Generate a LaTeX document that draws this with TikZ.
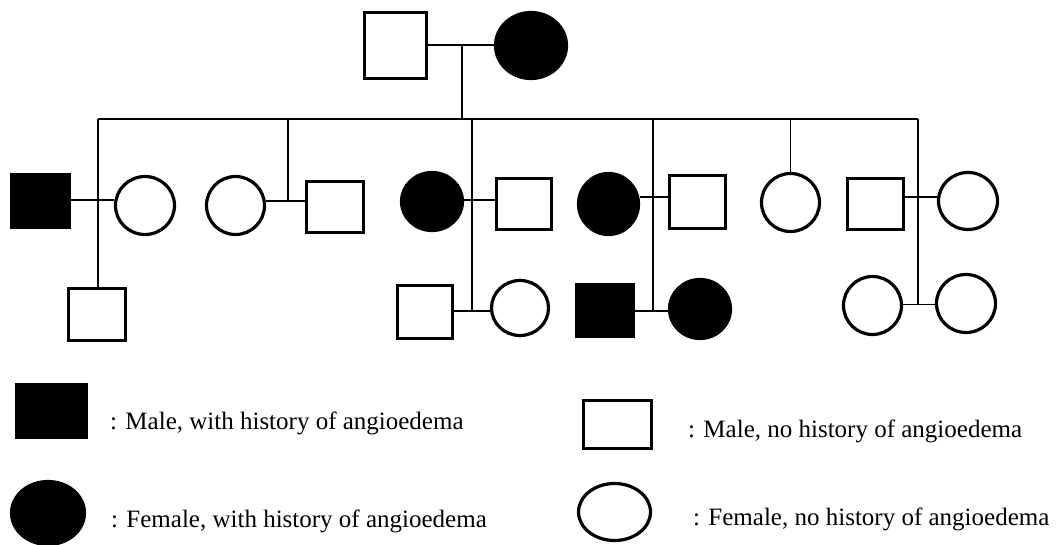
\documentclass[tikz,border=0pt]{standalone}
\usepackage{fontspec}
\setmainfont{Liberation Serif}
\usetikzlibrary{shapes.geometric}
\begin{document}
\begin{tikzpicture}[x=1pt,y=-1pt,
  male/.style={draw,line width=3.2pt,rectangle,inner sep=0pt},
  female/.style={draw,line width=3.2pt,ellipse,inner sep=0pt},
  aff/.style={fill=black},
  link/.style={line width=1.8pt},
  legtext/.style={anchor=base west,inner sep=0pt,font=\fontsize{25}{30}\selectfont}]
\useasboundingbox (0,0) rectangle (1058,544);
% generation I
\node[male,minimum width=62pt,minimum height=66pt] (I1) at (395.5,45.5) {};
\node[female,aff,minimum width=71pt,minimum height=66pt] (I2) at (531,45.5) {};
% generation II
\node[male,aff,minimum width=58pt,minimum height=53pt] (A) at (40.5,201) {};
\node[female,minimum width=59pt,minimum height=58pt] (B) at (145,205.5) {};
\node[female,minimum width=58pt,minimum height=58pt] (C) at (235.5,205.5) {};
\node[male,minimum width=57pt,minimum height=51pt] (D) at (335,207) {};
\node[female,aff,minimum width=61pt,minimum height=58pt] (E) at (432,201.5) {};
\node[male,minimum width=55pt,minimum height=51pt] (F) at (524,204) {};
\node[female,aff,minimum width=60pt,minimum height=61pt] (G) at (608.5,204) {};
\node[male,minimum width=56pt,minimum height=53pt] (H) at (697.5,202) {};
\node[female,minimum width=58pt,minimum height=58pt] (I) at (790.5,202.5) {};
\node[male,minimum width=56pt,minimum height=51pt] (J) at (875.5,204) {};
\node[female,minimum width=59pt,minimum height=57pt] (K) at (968,201) {};
% generation III
\node[male,minimum width=57pt,minimum height=52pt] (L) at (97,314.5) {};
\node[male,minimum width=55pt,minimum height=53pt] (M) at (425,312) {};
\node[female,minimum width=57pt,minimum height=55pt] (N) at (520,308) {};
\node[male,aff,minimum width=57pt,minimum height=52pt] (O) at (605,310.5) {};
\node[female,aff,minimum width=61pt,minimum height=59pt] (P) at (700,309) {};
\node[female,minimum width=58pt,minimum height=58pt] (Q) at (872.5,305.5) {};
\node[female,minimum width=59pt,minimum height=58pt] (R) at (966,303.5) {};
% connectors
\coordinate (top) at (462,45);
\coordinate (topd) at (462,119);
\coordinate (sibL) at (98,119);
\coordinate (sibR) at (918,119);
\draw[link] (I1.east |- top) -- (I2.west |- top);
\draw[link] (top) -- (topd);
\draw[link] (sibL) -- (sibR);
\coordinate (ab) at (98,200);
\draw[link] (A.east |- ab) -- (B.west |- ab);
\draw[link] (sibL) -- (sibL |- L.north);
\coordinate (cd) at (288,201);
\draw[link] (C.east |- cd) -- (D.west |- cd);
\draw[link] (cd |- sibL) -- (cd);
\coordinate (ef) at (472,200);
\coordinate (mn) at (472,311);
\draw[link] (E.east |- ef) -- (F.west |- ef);
\draw[link] (ef |- sibL) -- (mn);
\draw[link] (M.east |- mn) -- (N.west |- mn);
\coordinate (gh) at (653,197);
\coordinate (op) at (653,311);
\draw[link] (G.east |- gh) -- (H.west |- gh);
\draw[link] (gh |- sibL) -- (op);
\draw[link] (O.east |- op) -- (P.west |- op);
\draw[link] (I.north |- sibL) -- (I.north);
\coordinate (jk) at (918,197);
\coordinate (qr) at (918,304.5);
\draw[link] (J.east |- jk) -- (K.west |- jk);
\draw[link] (sibR) -- (qr);
\draw[link] (Q.east |- qr) -- (R.west |- qr);
% legend
\node[male,aff,minimum width=70pt,minimum height=53pt] (lg1) at (51.5,411) {};
\node[male,minimum width=68pt,minimum height=48pt] (lg2) at (617.5,424.5) {};
\node[female,aff,minimum width=73pt,minimum height=63pt] (lg3) at (48,513) {};
\node[female,minimum width=72pt,minimum height=57pt] (lg4) at (614.5,512) {};
\node[legtext] (t1) at (110,429) {: Male, with history of angioedema};
\node[legtext] (t2) at (688,437) {: Male, no history of angioedema};
\node[legtext] (t3) at (111,527) {: Female, with history of angioedema};
\node[legtext] (t4) at (693,525) {: Female, no history of angioedema};
\end{tikzpicture}
\end{document}
